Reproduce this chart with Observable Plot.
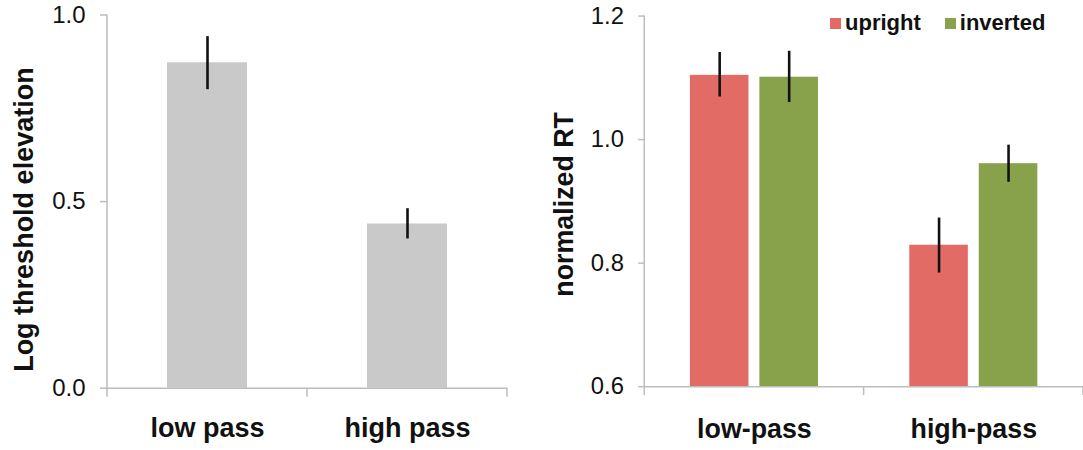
<!DOCTYPE html>
<html>
<head>
<meta charset="utf-8">
<script src="https://cdn.jsdelivr.net/npm/d3@7"></script>
<script src="https://cdn.jsdelivr.net/npm/@observablehq/plot@0.6"></script>
<style>
  body { margin: 0; background: #fff; font-family: "Liberation Sans", Arial, sans-serif; }
  #wrap { position: relative; width: 1083px; height: 450px; overflow: hidden; background: #fff; }
  #left { position: absolute; left: 0; top: 0; }
  #right { position: absolute; left: 540px; top: 0; }
  #legend { position: absolute; left: 830px; top: 12.4px; height: 22px; display: flex; align-items: center;
            font: bold 22px "Liberation Sans", Arial, sans-serif; line-height: 22px; color: #111; }
  #legend .sw { width: 11px; height: 11px; margin-right: 4px; }
  #legend .lab { margin-right: 24px; white-space: nowrap; }
</style>
</head>
<body>
<div id="wrap">
  <div id="left"></div>
  <div id="right"></div>
  <div id="legend"></div>
</div>
<script>
// ---- Left panel data ----
const thresholdCategories = ["low pass", "high pass"];
const thresholdValues = [0.872, 0.440];
const thresholdErrLow = [0.800, 0.400];
const thresholdErrHigh = [0.942, 0.481];
const thresholdTicks = [0.0, 0.5, 1.0];
const thresholdLabel = "Log threshold elevation";

// ---- Right panel data ----
const rtCategories = ["low-pass", "high-pass"];
const rtSeries = ["upright", "inverted"];
const rtUpright = [1.104, 0.829];
const rtInverted = [1.101, 0.961];
const rtUprightLow = [1.069, 0.784];
const rtUprightHigh = [1.141, 0.873];
const rtInvertedLow = [1.060, 0.931];
const rtInvertedHigh = [1.143, 0.991];
const rtTicks = [0.6, 0.8, 1.0, 1.2];
const rtBase = 0.6;
const rtLabel = "normalized RT";

const colors = ["#e26b66", "#88a14b"];
const barGray = "#c9c9c9";
const axisGray = "#bdbdbd";
const ink = "#111";
const font = "'Liberation Sans', Arial, sans-serif";

const leftData = thresholdCategories.map((c, i) => ({
  cat: c, v: thresholdValues[i], lo: thresholdErrLow[i], hi: thresholdErrHigh[i]
}));
const rtData = [];
rtCategories.forEach((c, i) => {
  rtData.push({cond: c, orient: rtSeries[0], v: rtUpright[i], lo: rtUprightLow[i], hi: rtUprightHigh[i]});
  rtData.push({cond: c, orient: rtSeries[1], v: rtInverted[i], lo: rtInvertedLow[i], hi: rtInvertedHigh[i]});
});

// Excel-style axis: vertical axis line + ticks at category boundaries, from the plot's own scales
function addBoundaryAxis(svg, band, y, tickLen) {
  const yBottom = Math.max(...y.range), yTop = Math.min(...y.range);
  const bw = band.bandwidth || 0, step = band.step || bw;
  const centers = band.domain.map(d => band.apply(d) + bw / 2);
  const bounds = centers.map(c => c - step / 2).concat([centers[centers.length - 1] + step / 2]);
  const g = d3.select(svg).append("g").attr("stroke", axisGray).attr("stroke-width", 1.5);
  g.append("line").attr("x1", bounds[0]).attr("x2", bounds[0]).attr("y1", yTop).attr("y2", yBottom + tickLen);
  bounds.slice(1).forEach(b => {
    g.append("line").attr("x1", b).attr("x2", b).attr("y1", yBottom).attr("y2", yBottom + tickLen);
  });
}

// ---- Left plot ----
const left = Plot.plot({
  width: 540, height: 450,
  marginTop: 14.5, marginBottom: 62.3, marginLeft: 107, marginRight: 33,
  style: {fontFamily: font, color: ink, background: "transparent", overflow: "visible"},
  x: {domain: thresholdCategories, paddingInner: 0.6, paddingOuter: 0.3, label: null},
  y: {domain: [0, 1], label: null},
  marks: [
    Plot.barY(leftData, {x: "cat", y: "v", fill: barGray}),
    Plot.ruleY([0], {stroke: axisGray, strokeWidth: 1.5}),
    Plot.ruleX(leftData, {x: "cat", y1: "lo", y2: "hi", stroke: ink, strokeWidth: 2.6}),
    Plot.axisY({ticks: thresholdTicks, tickFormat: d3.format(".1f"), tickSize: 7, tickPadding: 15,
                fontSize: 24, stroke: axisGray, strokeWidth: 1.5, fill: ink, label: null}),
    Plot.axisX({tickSize: 0, tickPadding: 30, fontSize: 27, fontWeight: "bold", fill: ink, label: null}),
    Plot.text([thresholdLabel], {text: d => d, frameAnchor: "left", textAnchor: "middle", rotate: -90, dx: -83, dy: 18,
                fontSize: 27, fontWeight: "bold", fill: ink})
  ]
});
addBoundaryAxis(left, left.scale("x"), left.scale("y"), 9);
document.getElementById("left").appendChild(left);

// ---- Right plot ----
const right = Plot.plot({
  width: 547, height: 450,
  marginTop: 15.7, marginBottom: 61, marginLeft: 105, marginRight: 0,
  style: {fontFamily: font, color: ink, background: "transparent", overflow: "visible"},
  fx: {domain: rtCategories, padding: 0, label: null},
  x: {domain: rtSeries, paddingInner: 0.155, paddingOuter: 0.634, axis: null, label: null},
  y: {domain: [0.6, 1.2], label: null},
  color: {domain: rtSeries, range: colors},
  marks: [
    Plot.barY(rtData, {fx: "cond", x: "orient", y1: rtBase, y2: "v", fill: "orient"}),
    Plot.ruleY([rtBase], {stroke: axisGray, strokeWidth: 1.5}),
    Plot.ruleX(rtData, {fx: "cond", x: "orient", y1: "lo", y2: "hi", stroke: ink, strokeWidth: 2.6}),
    Plot.axisY({ticks: rtTicks, tickFormat: d3.format(".1f"), tickSize: 6, tickPadding: 15,
                fontSize: 24, stroke: axisGray, strokeWidth: 1.5, fill: ink, label: null}),
    Plot.axisFx({anchor: "bottom", tickSize: 0, tickPadding: 33, fontSize: 27, fontWeight: "bold", fill: ink, label: null}),
    Plot.text([rtLabel], {fx: () => rtCategories[0], text: d => d, frameAnchor: "left", textAnchor: "middle", rotate: -90, dx: -81, dy: 3,
                fontSize: 27, fontWeight: "bold", fill: ink})
  ]
});
addBoundaryAxis(right, right.scale("fx"), right.scale("y"), 9);
document.getElementById("right").appendChild(right);

// ---- Legend ----
const legend = document.getElementById("legend");
rtSeries.forEach((s, i) => {
  const sw = document.createElement("span");
  sw.className = "sw";
  sw.style.background = colors[i];
  const lab = document.createElement("span");
  lab.className = "lab";
  lab.textContent = s;
  legend.appendChild(sw);
  legend.appendChild(lab);
});
</script>
</body>
</html>
